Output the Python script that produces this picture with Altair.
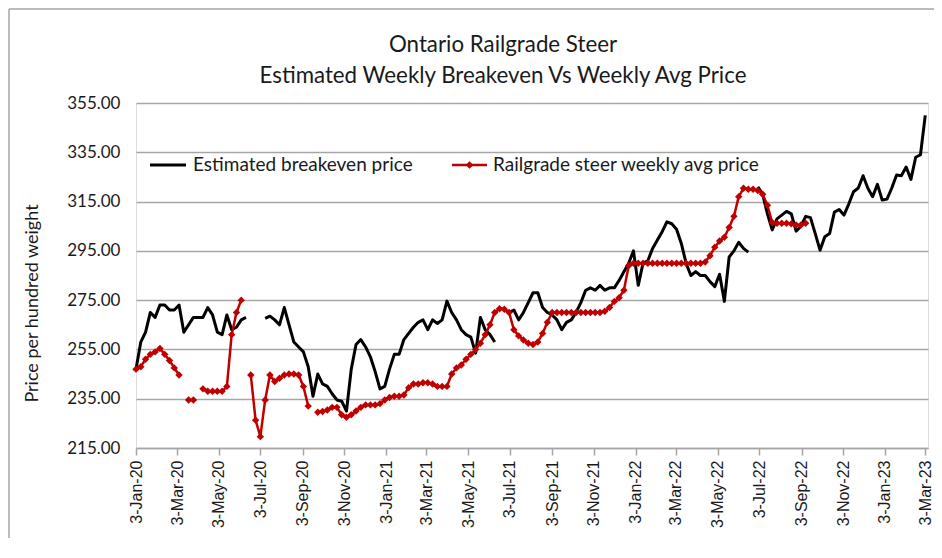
import altair as alt
import pandas as pd

# ---------------- data (weekly, starting 3-Jan-2020) ----------------
first_week = "2020-01-03"
n_weeks = 166

breakeven = [
    247, 258, 262, 270, 268, 273, 273, 271, 271, 273,
    262, 265, 268, 268, 268, 272, 269, 262, 261, 269,
    263, 264, 267, 268, None, None, None, 267.6, 268.5, 267,
    265, 272, 265, 258, 256, 254, 248, 236, 245, 241,
    240, 237, 234.5, 234, 230, 247, 257, 259, 256, 252,
    246, 239, 240, 247, 253, 253, 259, 261.5, 264, 266,
    267, 263, 267, 265.5, 267, 274.6, 270, 267, 263, 261,
    260, 253.5, 268, 263, 261, 258, None, None, 270, 271,
    267, 270, 274, 278, 278, 272, 270, 269, 267, 263,
    266, 267, 270, 274, 279, 280, 279, 281, 279, 280,
    280, 283, 286.5, 290, 295, 281, 290, 291, 296, 299.4,
    302.8, 306.8, 306, 303.8, 298, 290, 285, 286.6, 285, 285,
    282.5, 280.5, 285.5, 274.5, 292.5, 295, 298.5, 296, 294.5, None,
    321, 318, 310, 303.5, 308, 309.5, 311, 310, 303, 305,
    309, 308.5, 302, 295.3, 300.7, 302, 310.7, 311.8, 309.5, 314,
    319, 320.5, 325.5, 320.4, 317, 322, 315.6, 316, 320.5, 325.8,
    325.5, 329, 324, 333, 334, 350,
]

railgrade = [
    247, 248, 251, 253, 254, 255.4, 253, 250.5, 247.5, 244.6,
    None, 234.5, 234.5, None, 239, 238, 238, 238, 238, 240,
    261, 270, 275, None, 244.6, 226.3, 219.6, 234.5, 244.6, 242,
    243.3, 244.6, 245, 245, 244.6, 240, 232, None, 229.5, 229.8,
    230.4, 231.5, 231.5, 228.5, 227.5, 228.5, 230, 231.5, 232.5, 232.5,
    232.5, 233, 234.5, 235.5, 236, 236, 236.5, 239.5, 241, 241,
    241.5, 241.5, 241, 240, 240, 240, 245, 247.5, 248.7, 251,
    253, 255, 257.5, 261, 265, 270, 271.5, 271.3, 270, 263,
    260.5, 258.8, 257.5, 257, 258, 261.5, 266, 270, 270, 270,
    270, 270, 270, 270, 270, 270, 270, 270, 270.5, 272,
    274.5, 276, 279, 289, 290, 290, 290, 290, 290, 290,
    290, 290, 290, 290, 290, 290, 290, 290, 290, 290.5,
    293, 296.5, 299, 300.5, 304.5, 309, 317, 320.4, 320, 320,
    319.5, 318, 313.5, 306.5, 306.2, 306.2, 306.2, 306, 305.5, 305.5,
    306.2,
]

x_tick_dates = [
    "2020-01-03", "2020-03-03", "2020-05-03", "2020-07-03", "2020-09-03", "2020-11-03",
    "2021-01-03", "2021-03-03", "2021-05-03", "2021-07-03", "2021-09-03", "2021-11-03",
    "2022-01-03", "2022-03-03", "2022-05-03", "2022-07-03", "2022-09-03", "2022-11-03",
    "2023-01-03", "2023-03-03",
]
x_domain = ["2020-01-03", "2023-03-07"]
y_ticks = [215, 235, 255, 275, 295, 315, 335, 355]

title_lines = ["Ontario Railgrade Steer", "Estimated Weekly Breakeven Vs Weekly Avg Price"]
y_title = "Price per hundred weight"
legend_labels = ["Estimated breakeven price", "Railgrade steer weekly avg price"]

# ---------------- build ----------------
dates = pd.date_range(first_week, periods=n_weeks, freq="7D")
df = pd.DataFrame({
    "date": dates,
    "breakeven": breakeven,
    "railgrade": railgrade + [None] * (n_weeks - len(railgrade)),
})


def dt(s):
    y, m, d = (int(p) for p in s.split("-"))
    return alt.DateTime(year=y, month=m, date=d)


W, H = 792, 345
GRID = "#A6A6A6"
TXT = "#1a1a1a"
RED = "#C00000"
FONT = "Lato"

x_enc = alt.X(
    "date:T",
    title=None,
    scale=alt.Scale(domain=[dt(s) for s in x_domain]),
    axis=alt.Axis(
        values=[dt(s) for s in x_tick_dates],
        format="%-d-%b-%y",
        labelAngle=270,
        labelFont="Liberation Sans",
        labelFontSize=16,
        labelColor=TXT,
        labelPadding=5,
        labelOverlap=False,
        labelBound=False,
        grid=False,
        domainColor=GRID,
        domainWidth=1.5,
        tickColor=GRID,
        tickWidth=1.5,
        tickSize=7,
    ),
)

y_scale = alt.Scale(domain=[215, 355], nice=False, zero=False)

black = alt.Chart(df).mark_line(
    color="black", strokeWidth=3, strokeJoin="round",
    invalid="break-paths-show-domains",
).encode(
    x=x_enc,
    y=alt.Y(
        "breakeven:Q",
        scale=y_scale,
        axis=alt.Axis(
            values=y_ticks,
            format=".2f",
            grid=True,
            gridColor=GRID,
            gridWidth=1.5,
            domain=False,
            ticks=False,
            labelPadding=16,
            labelFont=FONT,
            labelFontSize=17,
            labelColor=TXT,
            title=y_title,
            titleFont=FONT,
            titleFontSize=18,
            titleFontWeight="normal",
            titleColor=TXT,
            titleAngle=270,
            titleX=-95,
            titleY=200,
            titleAlign="center",
            titleBaseline="bottom",
        ),
    ),
)

red = alt.Chart(df).mark_line(
    color=RED, strokeWidth=2.5, strokeJoin="round",
    invalid="break-paths-show-domains",
    point=alt.OverlayMarkDef(shape="diamond", size=55, filled=True, color=RED, opacity=1),
).encode(
    x="date:T",
    y=alt.Y("railgrade:Q", scale=y_scale),
)

one = pd.DataFrame({"k": [0]})

title1 = alt.Chart(one).mark_text(
    align="center", baseline="middle", font=FONT, fontSize=22.3, color=TXT
).encode(x=alt.value(367), y=alt.value(-58), text=alt.value(title_lines[0]))
title2 = alt.Chart(one).mark_text(
    align="center", baseline="middle", font=FONT, fontSize=22.3, color=TXT
).encode(x=alt.value(367), y=alt.value(-27), text=alt.value(title_lines[1]))

LY = 62
leg_black = alt.Chart(one).mark_rule(color="black", strokeWidth=3).encode(
    x=alt.value(14), x2=alt.value(50), y=alt.value(LY))
leg_black_t = alt.Chart(one).mark_text(
    align="left", baseline="middle", font=FONT, fontSize=19, color=TXT
).encode(x=alt.value(57), y=alt.value(LY), text=alt.value(legend_labels[0]))
leg_red = alt.Chart(one).mark_rule(color=RED, strokeWidth=2.5).encode(
    x=alt.value(316), x2=alt.value(351), y=alt.value(LY))
leg_red_p = alt.Chart(one).mark_point(
    shape="diamond", size=60, filled=True, color=RED, opacity=1
).encode(x=alt.value(333.5), y=alt.value(LY))
leg_red_t = alt.Chart(one).mark_text(
    align="left", baseline="middle", font=FONT, fontSize=19, color=TXT
).encode(x=alt.value(357), y=alt.value(LY), text=alt.value(legend_labels[1]))

frame_top = alt.Chart(one).mark_rule(color=GRID, strokeWidth=1.5).encode(
    x=alt.value(-127), x2=alt.value(W + 6), y=alt.value(-94))
frame_left = alt.Chart(one).mark_rule(color=GRID, strokeWidth=1.5).encode(
    x=alt.value(-127), y=alt.value(-94), y2=alt.value(H + 90))

chart = alt.layer(
    frame_top, frame_left, title1, title2, black, red,
    leg_black, leg_black_t, leg_red, leg_red_p, leg_red_t,
).properties(
    width=W,
    height=H,
    autosize=alt.AutoSizeParams(type="none"),
    padding={"left": 128, "top": 95, "right": 6, "bottom": 90},
).configure_view(stroke=None).configure(background="white")

chart.save("out.html", embed_options={"renderer": "svg", "actions": False})
